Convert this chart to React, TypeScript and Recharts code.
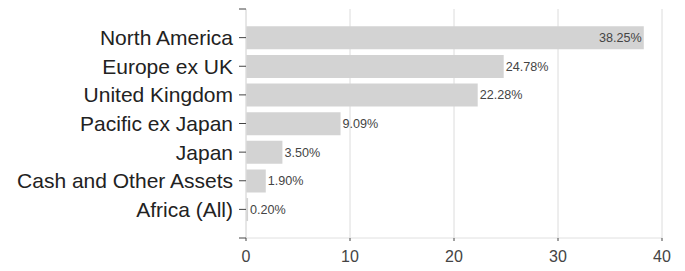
import React from "react";
import { BarChart, Bar, XAxis, YAxis, CartesianGrid, LabelList } from "recharts";

const regions = [
  "North America",
  "Europe ex UK",
  "United Kingdom",
  "Pacific ex Japan",
  "Japan",
  "Cash and Other Assets",
  "Africa (All)",
];
const weights = [38.25, 24.78, 22.28, 9.09, 3.5, 1.9, 0.2];
const xTicks = [0, 10, 20, 30, 40];
const yTicks = [0, 1, 2, 3, 4, 5, 6, 7, 8];

const data = regions.map((name, i) => ({ name, pos: i + 1, value: weights[i] }));

const FONT = "'Liberation Sans', Arial, sans-serif";

const ValueLabel = (props: any) => {
  const { x, y, width, height, value } = props;
  const inside = value > 30;
  const cy = y + height / 2;
  return (
    <text
      x={inside ? x + width - 2 : x + width + 2}
      y={cy}
      dy="0.35em"
      textAnchor={inside ? "end" : "start"}
      fill="#444"
      fontSize={12.6}
      fontFamily={FONT}
    >
      {value.toFixed(2) + "%"}
    </text>
  );
};

export default function App() {
  return (
    <div style={{ position: "absolute", left: 0, top: 0 }}>
      <BarChart
        width={685}
        height={271}
        data={data}
        layout="vertical"
        margin={{ top: 9, right: 23, bottom: 0, left: 0 }}
      >
        <CartesianGrid horizontal={false} stroke="#dcdcdc" strokeDasharray="" />
        <XAxis
          type="number"
          domain={[0, 40]}
          ticks={xTicks}
          interval={0}
          stroke="#e0e0e0"
          tickLine={{ stroke: "#444" }}
          tickSize={3}
          tickMargin={10}
          tick={{ fill: "#444", fontSize: 16, fontFamily: FONT }}
          height={33}
        />
        <YAxis
          type="number"
          dataKey="pos"
          domain={[0, 8]}
          ticks={yTicks}
          interval={0}
          width={246}
          stroke="#e0e0e0"
          tickLine={{ stroke: "#444" }}
          tickSize={7}
          tickMargin={6}
          tickFormatter={(v: number) => (v >= 1 && v <= 7 ? regions[v - 1] : "")}
          tick={{ fill: "#222", fontSize: 21, fontFamily: FONT }}
        />
        <Bar dataKey="value" fill="#d3d3d3" barSize={23} isAnimationActive={false}>
          <LabelList dataKey="value" content={ValueLabel} />
        </Bar>
      </BarChart>
    </div>
  );
}
